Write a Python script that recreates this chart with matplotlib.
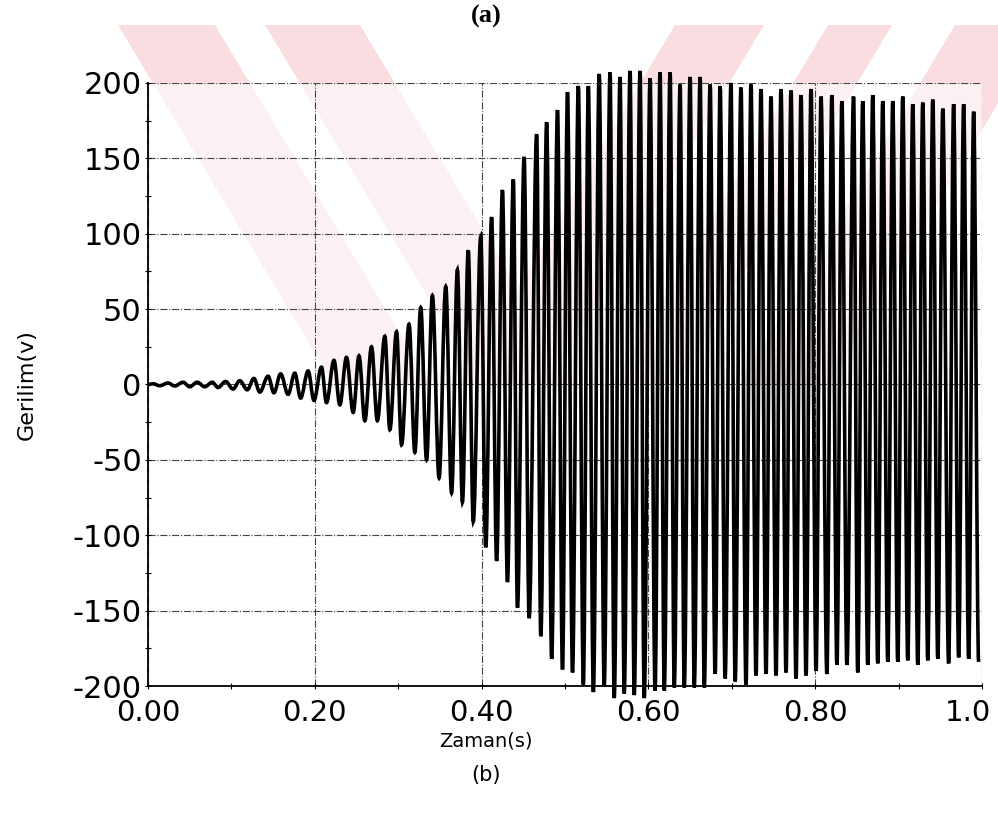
import matplotlib
matplotlib.use('Agg')
import matplotlib.pyplot as plt
import matplotlib.transforms as mtransforms
from matplotlib.path import Path
from matplotlib.patches import PathPatch, Polygon
from matplotlib.ticker import MultipleLocator

# positive peaks of the voltage trace (s, V)
peak_t = [0.006, 0.024, 0.042, 0.059, 0.077, 0.093, 0.110, 0.127, 0.144, 0.159,
          0.176, 0.192, 0.208, 0.223, 0.238, 0.253, 0.268, 0.284, 0.298, 0.313,
          0.327, 0.341, 0.357, 0.371, 0.384, 0.399, 0.412, 0.425, 0.438, 0.451,
          0.466, 0.478, 0.491, 0.503, 0.516, 0.528, 0.541, 0.554, 0.566, 0.578,
          0.590, 0.602, 0.614, 0.626, 0.638, 0.650, 0.662, 0.674, 0.686, 0.699,
          0.711, 0.723, 0.735, 0.747, 0.759, 0.771, 0.783, 0.795, 0.807, 0.820,
          0.832, 0.846, 0.857, 0.869, 0.881, 0.893, 0.905, 0.917, 0.929, 0.941,
          0.953, 0.966, 0.978, 0.990]
peak_v = [0.5, 1, 1.5, 1.5, 1.5, 2, 2.5, 4, 5.5, 7,
          7.5, 9, 11.5, 16, 18, 19, 25, 32, 35, 40,
          51, 59, 65, 76, 89, 98, 111, 129, 136, 151,
          166, 174, 182, 194, 198, 198, 206, 207, 204, 208,
          208, 203, 207, 207, 199, 204, 204, 199, 198, 200,
          197, 199, 196, 191, 196, 195, 192, 196, 191, 192,
          188, 191, 188, 192, 188, 188, 191, 186, 187, 189,
          183, 186, 186, 181]

# negative peaks
trough_t = [0.014, 0.032, 0.050, 0.068, 0.084, 0.102, 0.119, 0.134, 0.151, 0.168,
            0.183, 0.199, 0.214, 0.230, 0.246, 0.260, 0.275, 0.290, 0.304, 0.320,
            0.334, 0.349, 0.364, 0.377, 0.390, 0.405, 0.418, 0.431, 0.443, 0.457,
            0.471, 0.484, 0.497, 0.509, 0.522, 0.534, 0.547, 0.559, 0.571, 0.583,
            0.595, 0.608, 0.619, 0.631, 0.643, 0.655, 0.667, 0.680, 0.692, 0.704,
            0.717, 0.729, 0.741, 0.753, 0.765, 0.777, 0.789, 0.801, 0.814, 0.826,
            0.838, 0.851, 0.863, 0.875, 0.887, 0.899, 0.911, 0.923, 0.935, 0.947,
            0.960, 0.972, 0.984, 0.996]
trough_v = [-0.8, -1, -1.5, -1.5, -2, -3, -3.5, -5, -5.5, -6.5,
            -9, -10.5, -12, -13.5, -18.5, -24, -24, -30, -40, -45,
            -50, -62, -72, -78, -91, -108, -117, -131, -148, -155,
            -167, -182, -189, -191, -199, -204, -200, -208, -205, -206,
            -208, -203, -203, -201, -201, -201, -201, -192, -195, -197,
            -199, -193, -192, -193, -191, -195, -193, -190, -192, -186,
            -186, -191, -186, -185, -184, -184, -183, -186, -183, -182,
            -185, -181, -182, -184]

xticks = [0.0, 0.2, 0.4, 0.6, 0.8, 1.0]
xticklabels = ['0.00', '0.20', '0.40', '0.60', '0.80', '1.0']
yticks = [200, 150, 100, 50, 0, -50, -100, -150, -200]
yticklabels = ['200', '150', '100', '50', '0', '-50', '-100', '-150', '-200']

W, H = 998, 838
fig = plt.figure(figsize=(W / 100, H / 100), dpi=100)


def px(x, y):
    return (x / W, 1 - y / H)


# faint watermark stripes behind the plot
wm_color = '#fadde1'
s = 0.6
stripes = []
for a, b in [(118, 215), (265, 360)]:
    stripes.append([px(a, 25), px(b, 25), px(b + s * 360, 385), px(a + s * 360, 385)])
for a, b in [(675, 764), (828, 892), (955, 1045)]:
    stripes.append([px(a, 25), px(b, 25), px(b - s * 360, 385), px(a - s * 360, 385)])
for poly in stripes:
    fig.patches.append(Polygon(poly, closed=True, transform=fig.transFigure,
                               facecolor=wm_color, edgecolor='none', zorder=-5))

ax = fig.add_axes([148 / W, 1 - 686 / H, (982 - 148) / W, (686 - 83) / H])
ax.set_zorder(1)
ax.patch.set_facecolor('white')
ax.patch.set_alpha(0.6)

# smooth trace through the extrema (cubic segments with flat tangents)
pts = [(0.0, 0.0)]
for pt, pv, tt, tv in zip(peak_t, peak_v, trough_t, trough_v):
    pts.append((pt, pv))
    pts.append((tt, tv))
k = 0.363
verts = [pts[0]]
codes = [Path.MOVETO]
for (t0, v0), (t1, v1) in zip(pts[:-1], pts[1:]):
    d = t1 - t0
    verts += [(t0 + k * d, v0), (t1 - k * d, v1), (t1, v1)]
    codes += [Path.CURVE4] * 3
trace = PathPatch(Path(verts, codes), facecolor='none', edgecolor='black',
                  lw=2.6, clip_on=False, zorder=3)
ax.add_patch(trace)

ax.set_xlim(0, 1.0)
ax.set_ylim(-200, 200)
ax.set_xticks(xticks)
ax.set_xticklabels(xticklabels)
ax.set_yticks(yticks)
ax.set_yticklabels(yticklabels)
ax.yaxis.set_minor_locator(MultipleLocator(25))
ax.xaxis.set_minor_locator(MultipleLocator(0.1))
ax.tick_params(which='both', direction='inout', length=5, width=0.8,
               colors='black')
ax.tick_params(axis='y', pad=2, labelsize=22)
ax.tick_params(axis='x', pad=7, labelsize=21)
ax.tick_params(which='minor', length=4)

# last x label sits a little inside the right edge
last = ax.get_xticklabels()[-1]
last.set_transform(last.get_transform() +
                   mtransforms.ScaledTranslation(-10 / 72, 0, fig.dpi_scale_trans))

ax.set_axisbelow(True)
ax.grid(True, which='major', color='#444444', lw=0.8, linestyle='-.')
for side in ('top', 'right'):
    ax.spines[side].set_visible(False)
for side in ('left', 'bottom'):
    ax.spines[side].set_linewidth(1.3)

fig.text(27 / W, 1 - 385 / H, 'Gerilim(v)', rotation=90, ha='center',
         va='center', fontsize=16)
fig.text(486 / W, 1 - 741 / H, 'Zaman(s)', ha='center', va='center',
         fontsize=14)
fig.text(486 / W, 1 - 775 / H, '(b)', ha='center', va='center', fontsize=15)
fig.text(486 / W, 1 - 16 / H, '(a)', ha='center', va='center', fontsize=19,
         family=['Liberation Serif', 'DejaVu Serif'], weight='bold')

plt.savefig('out.png', dpi=100)
